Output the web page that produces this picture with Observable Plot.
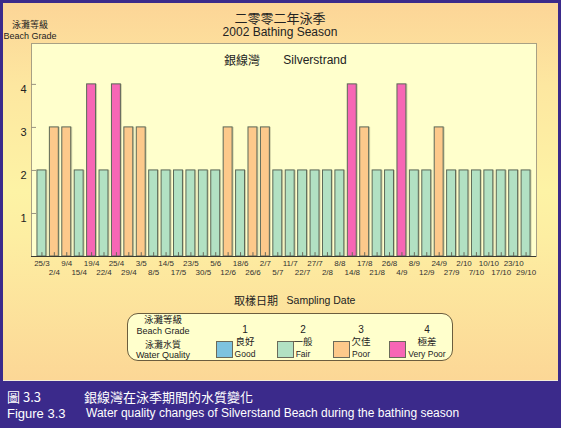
<!DOCTYPE html>
<html>
<head>
<meta charset="utf-8">
<script src="https://cdn.jsdelivr.net/npm/d3@7"></script>
<script src="https://cdn.jsdelivr.net/npm/@observablehq/plot@0.6"></script>
<style>
  html, body { margin: 0; padding: 0; }
  body { width: 561px; height: 428px; background: #3b2a8b; position: relative; overflow: hidden;
         font-family: "Liberation Sans", Arial, "Noto Sans CJK TC", sans-serif; }
  #panel { position: absolute; left: 3px; top: 3px; width: 555px; height: 377px;
           background: linear-gradient(to bottom, #fcd597 0%, #fde7a0 22%, #fdf3a5 50%, #fdeea2 62%, #fcd796 100%);
           border-bottom: 1px solid #f3ecd8; }
  #chart { position: absolute; left: 0; top: 0; }
  .t { position: absolute; transform: translate(-50%, -50%); white-space: nowrap; color: #222; line-height: 1; }
  .l { position: absolute; transform: translate(0, -50%); white-space: nowrap; color: #fff; line-height: 1; }
  .zh { font-family: "Noto Sans CJK TC", sans-serif; }
  #legend { position: absolute; left: 127px; top: 313px; width: 324px; height: 46px;
            border: 1.3px solid #6b5d3e; border-radius: 11px; background: #ffffcc; }
  .sw { position: absolute; width: 15px; height: 15px; border: 1px solid #6a6a5a; }
</style>
</head>
<body>
<div id="panel"></div>
<div id="chart"></div>
<script>
// ---- data ----
const dates = ["25/3","2/4","9/4","15/4","19/4","22/4","25/4","29/4","3/5","8/5",
  "14/5","17/5","23/5","30/5","5/6","12/6","18/6","26/6","2/7","5/7",
  "11/7","22/7","27/7","2/8","8/8","14/8","17/8","21/8","26/8","4/9",
  "8/9","12/9","24/9","27/9","2/10","7/10","10/10","17/10","23/10","29/10"];
const grades = [2,3,3,2,4,2,4,3,3,2,
  2,2,2,2,2,3,2,3,3,2,
  2,2,2,2,2,4,3,2,2,4,
  2,2,3,2,2,2,2,2,2,2];
const gradeLevels = [1,2,3,4];
const qualityZh = ["良好","一般","欠佳","極差"];
const qualityEn = ["Good","Fair","Poor","Very Poor"];
const gradeColors = ["#7dc3df","#b2e1c3","#fdc98b","#f766b5"];
const yTicks = [1,2,3,4];

const data = dates.map((d, i) => ({date: d, grade: grades[i]}));
const evenDates = dates.filter((d, i) => i % 2 === 0);
const oddDates = dates.filter((d, i) => i % 2 === 1);

const W = 561, H = 381, mL = 31, mR = 25, mT = 43, mB = 125;

const chart = Plot.plot({
  width: W, height: H,
  marginLeft: mL, marginRight: mR, marginTop: mT, marginBottom: mB,
  style: {background: "transparent", fontFamily: "Liberation Sans, Arial, sans-serif", overflow: "visible"},
  x: {type: "band", domain: dates, paddingInner: 0.28, paddingOuter: 0.48, round: false},
  y: {domain: [0, 4.95]},
  color: {domain: gradeLevels, range: gradeColors},
  marks: [
    Plot.frame({fill: "#ffffcc", stroke: "#a8a184"}),
    Plot.barY(data, {x: "date", y: "grade", fill: "#5a5a40", fillOpacity: 0.28, dx: 1.5}),
    Plot.barY(data, {x: "date", y: "grade", fill: "grade", stroke: "#5b6857", strokeWidth: 1}),
    Plot.ruleX(dates, {x: d => d, y1: 0, y2: 0.09, stroke: "#6d6d5c"}),
    Plot.ruleY(yTicks, {y: d => d, insetRight: W - mL - mR - 5, stroke: "#9a9580"}),
    Plot.ruleY([0], {stroke: "#3a3a30"}),
    Plot.axisY({ticks: yTicks, tickSize: 0, tickPadding: 5, dy: 5, fontSize: 11, tickFormat: d => String(d), color: "#222", label: null}),
    Plot.axisX({ticks: evenDates, tickSize: 0, tickPadding: 4, fontSize: 8, color: "#333", label: null}),
    Plot.axisX({ticks: oddDates, tickSize: 0, tickPadding: 13, fontSize: 8, color: "#333", label: null})
  ]
});
document.getElementById("chart").appendChild(chart);

// ---- text overlays ----
function txt(s, x, y, size, cls = "t") {
  const el = document.createElement("div");
  el.className = cls;
  el.textContent = s;
  el.style.left = x + "px";
  el.style.top = y + "px";
  el.style.fontSize = size + "px";
  document.body.appendChild(el);
  return el;
}
txt("二零零二年泳季", 280, 17, 13, "t zh");
txt("2002 Bathing Season", 280, 32, 12);
txt("泳灘等級", 30, 23.5, 9, "t zh");
txt("Beach Grade", 30, 35.5, 9);
txt("銀線灣", 242, 60, 12, "t zh");
txt("Silverstrand", 315, 60, 12);
txt("取樣日期", 256, 300, 11, "t zh");
txt("Sampling Date", 321, 300, 10.5);

// legend
const lg = document.createElement("div");
lg.id = "legend";
document.body.appendChild(lg);
txt("泳灘等級", 163, 320, 9.5, "t zh");
txt("Beach Grade", 163, 331, 9);
txt("泳灘水質", 163, 343.5, 9, "t zh");
txt("Water Quality", 163, 355, 9);
const swX = [216, 277, 333, 389];
const numX = [245, 303, 361, 427];
gradeLevels.forEach((g, i) => {
  txt(String(g), numX[i], 330, 10);
  const s = document.createElement("div");
  s.className = "sw";
  s.style.left = swX[i] + "px";
  s.style.top = "341px";
  s.style.background = gradeColors[i];
  document.body.appendChild(s);
  txt(qualityZh[i], numX[i], 342, 9.5, "t zh");
  txt(qualityEn[i], numX[i], 354, 8.5);
});

// caption
txt("圖 3.3", 7, 395.5, 13, "l zh");
txt("銀線灣在泳季期間的水質變化", 84, 395.5, 13, "l zh");
txt("Figure 3.3", 7, 413, 13, "l");
txt("Water quality changes of Silverstand Beach during the bathing season", 86, 413, 12, "l");
</script>
</body>
</html>
